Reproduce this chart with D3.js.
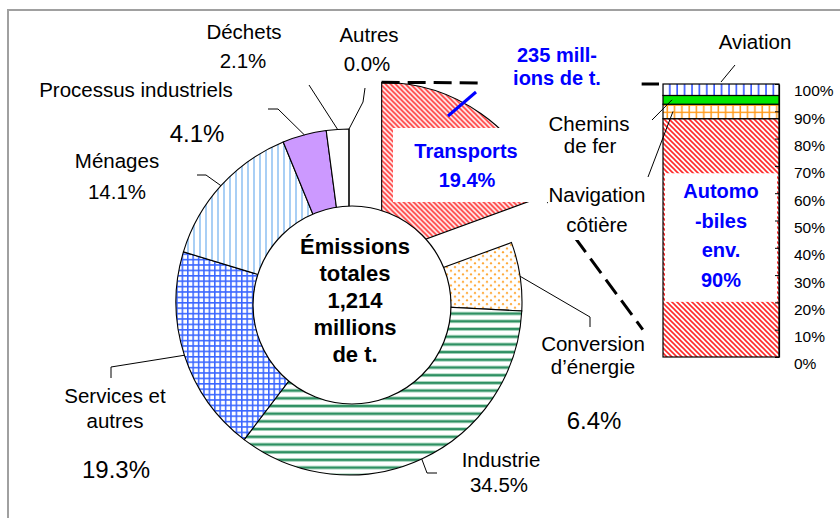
<!DOCTYPE html>
<html>
<head>
<meta charset="utf-8">
<script src="https://cdn.jsdelivr.net/npm/d3@7"></script>
<style>
  body { margin: 0; background: #fff; }
  svg { display: block; }
  text { font-family: "Liberation Sans", Arial, sans-serif; }
</style>
</head>
<body>
<svg id="chart" width="840" height="518"></svg>
<script>
// Sectors of total CO2 emissions (share of total, %), clockwise from 12 o'clock
const sectors = ["Transports", "Conversion d'énergie", "Industrie", "Services et autres",
                 "Ménages", "Processus industriels", "Déchets", "Autres"];
const sectorShares = [19.4, 6.4, 34.5, 19.3, 14.1, 4.1, 2.1, 0.0];

// Breakdown of the transport sector (share of its 235 Mt, %), bottom to top
const transportModes = ["Automobiles", "Navigation côtière", "Chemins de fer", "Aviation"];
const transportShares = [87.3, 5.3, 3.2, 4.2];

// Right-hand axis of the transport bar
const barTicks = [0, 10, 20, 30, 40, 50, 60, 70, 80, 90, 100];

const totalEmissions = "1,214";
const transportTonnes = 235;

// ---------------------------------------------------------------------------
const svg = d3.select("#chart");
const defs = svg.append("defs");
const FONT = 20.5, BIG = 24, BLUE = "#0000ff";

function pattern(id, w, h, build) {
  const p = defs.append("pattern").attr("id", id)
    .attr("patternUnits", "userSpaceOnUse").attr("width", w).attr("height", h);
  p.append("rect").attr("width", w).attr("height", h).attr("fill", "#fff");
  build(p);
}
// red diagonal hatch (transport / cars)
pattern("hatchRed", 5, 5, p => p.append("path")
  .attr("d", "M0,0L5,5M-1,4L1,6M4,-1L6,1").attr("stroke", "#ff2a2a").attr("stroke-width", 1.6));
// orange dots (energy conversion)
pattern("dotsOrange", 8, 7.4, p => {
  p.append("circle").attr("cx", 2).attr("cy", 2).attr("r", 1.1).attr("fill", "#ffa733");
  p.append("circle").attr("cx", 6).attr("cy", 5.7).attr("r", 1.1).attr("fill", "#ffa733");
});
// green horizontal lines (industry)
pattern("linesGreen", 8, 7.7, p => {
  p.append("rect").attr("y", 2.2).attr("width", 8).attr("height", 3.4).attr("fill", "#a8d8bd");
  p.append("rect").attr("y", 2.8).attr("width", 8).attr("height", 2.2).attr("fill", "#2f9063");
});
// blue grid (services)
pattern("gridBlue", 5.4, 5.4, p => p.append("path")
  .attr("d", "M0.75,0V5.4M0,0.75H5.4").attr("stroke", "#3a66ff").attr("stroke-width", 1.6));
// light blue vertical lines (households)
pattern("linesLightBlue", 6, 6, p => p.append("rect")
  .attr("x", 0).attr("width", 2).attr("height", 6).attr("fill", "#a9cff5"));
// blue vertical lines (aviation)
pattern("linesBlue", 7.4, 7.4, p => p.append("rect")
  .attr("x", 3).attr("width", 1.6).attr("height", 7.4).attr("fill", "#3355ff"));
// orange grid (coastal shipping)
pattern("gridOrange", 7.3, 7.3, p => p.append("path")
  .attr("d", "M3,0V7.3M0,3H7.3").attr("stroke", "#ff9a1a").attr("stroke-width", 1.5));

const sectorFill = {
  "Transports": "url(#hatchRed)",
  "Conversion d'énergie": "url(#dotsOrange)",
  "Industrie": "url(#linesGreen)",
  "Services et autres": "url(#gridBlue)",
  "Ménages": "url(#linesLightBlue)",
  "Processus industriels": "#cc99ff",
  "Déchets": "#ffffff",
  "Autres": "#ffffff"
};
const modeFill = {
  "Automobiles": "url(#hatchRed)",
  "Navigation côtière": "url(#gridOrange)",
  "Chemins de fer": "#00e800",
  "Aviation": "url(#linesBlue)"
};

// ---------------------------------------------------------------------------
// chart frame
svg.append("path").attr("d", "M8,518V10H840").attr("fill", "none")
  .attr("stroke", "#a0a0a0").attr("stroke-width", 2);

// ---------------------------------------------------------------------------
// Pie of sectors
const cx = 349, cy = 302, R = 173, explode = 57;
const pieData = d3.pie().sort(null).value(d => d.v)
  (sectors.map((name, i) => ({ name, v: sectorShares[i] })));
const arc = d3.arc().innerRadius(0).outerRadius(R);
const pieG = svg.append("g").attr("transform", `translate(${cx},${cy})`);

function offsetOf(d) {
  if (d.data.name !== "Transports") return [0, 0];
  const m = (d.startAngle + d.endAngle) / 2;
  return [Math.sin(m) * explode, -Math.cos(m) * explode];
}
pieG.selectAll("path.slice").data(pieData).join("path")
  .attr("class", "slice")
  .attr("transform", d => `translate(${offsetOf(d)})`)
  .attr("d", arc)
  .attr("fill", d => sectorFill[d.data.name])
  .attr("stroke", "#000").attr("stroke-width", 1.1);

// centre disc with the total
svg.append("circle").attr("cx", cx + 3).attr("cy", cy + 3).attr("r", 99)
  .attr("fill", "#fff").attr("stroke", "#000").attr("stroke-width", 1.2);
const centreLines = ["Émissions", "totales", totalEmissions, "millions", "de t."];
svg.append("g").selectAll("text").data(centreLines).join("text")
  .attr("x", 355).attr("y", (d, i) => 254 + i * 27)
  .attr("text-anchor", "middle").attr("font-size", 22).attr("font-weight", "bold")
  .attr("fill", "#000").text(d => d);

// ---------------------------------------------------------------------------
// Transport breakdown bar
const x = d3.scaleBand().domain(["Transports"]).range([663, 779]).padding(0);
const y = d3.scaleLinear().domain([0, 100]).range([357, 84]);
const row = { key: "Transports" };
transportModes.forEach((m, i) => row[m] = transportShares[i]);
const stacked = d3.stack().keys(transportModes)([row]);

const barG = svg.append("g");
barG.selectAll("rect").data(stacked).join("rect")
  .attr("x", x("Transports")).attr("width", x.bandwidth())
  .attr("y", d => y(d[0][1])).attr("height", d => y(d[0][0]) - y(d[0][1]))
  .attr("fill", d => modeFill[d.key])
  .attr("stroke", "#000").attr("stroke-width", 1.2);

// white panel carrying the car label inside the bar
svg.append("rect").attr("x", x("Transports") + 2).attr("width", x.bandwidth() - 4)
  .attr("y", y(67.3)).attr("height", y(20.2) - y(67.3)).attr("fill", "#fff");
const carLabel = ["Automo", "-biles", "env.", "90%"];
svg.append("g").selectAll("text").data(carLabel).join("text")
  .attr("x", x("Transports") + x.bandwidth() / 2).attr("y", (d, i) => 198 + i * 29.5)
  .attr("text-anchor", "middle").attr("font-size", 20).attr("font-weight", "bold")
  .attr("fill", BLUE).text(d => d);

// right axis
const axis = d3.axisRight(y).tickValues(barTicks).tickFormat(d => d + "%")
  .tickSizeInner(-4).tickSizeOuter(0).tickPadding(15);
const axG = svg.append("g").attr("transform", `translate(${x("Transports") + x.bandwidth()},0)`).call(axis);
axG.select(".domain").attr("stroke", "#000").attr("stroke-width", 1.2);
axG.selectAll(".tick line").attr("stroke", "#000");
axG.selectAll(".tick text").attr("y", 7).attr("font-size", 15.5)
  .attr("font-family", "'Liberation Sans', Arial, sans-serif").attr("fill", "#000");

// ---------------------------------------------------------------------------
// dashed series lines from the exploded slice to the bar
const tr = pieData[0];
const [ox, oy] = offsetOf(tr);
const wedgeTop = [cx + ox + Math.sin(tr.startAngle) * R, cy + oy - Math.cos(tr.startAngle) * R];
const wedgeEnd = [cx + ox + Math.sin(tr.endAngle) * R, cy + oy - Math.cos(tr.endAngle) * R];
const barTopLeft = [x("Transports"), y(100)];
const barBottomLeft = [x("Transports"), y(0)];
const lerp = (a, b, t) => [a[0] + (b[0] - a[0]) * t, a[1] + (b[1] - a[1]) * t];
const dashed = svg.append("g").attr("stroke", "#000").attr("stroke-width", 3)
  .attr("stroke-dasharray", "18,8").attr("fill", "none");
dashed.append("line").attr("x1", wedgeTop[0]).attr("y1", wedgeTop[1])
  .attr("x2", barTopLeft[0] - 4).attr("y2", barTopLeft[1]);
const endPt = lerp(wedgeEnd, barBottomLeft, 0.83);
dashed.append("line").attr("x1", wedgeEnd[0]).attr("y1", wedgeEnd[1])
  .attr("x2", endPt[0]).attr("y2", endPt[1]);

// ---------------------------------------------------------------------------
// label panels (white background behind the labels)
const panels = [
  [393, 128, 155, 74],   // Transports
  [478, 38, 163, 58],    // 235 millions de t.
  [548, 183, 100, 57]    // Navigation côtière
];
svg.append("g").selectAll("rect").data(panels).join("rect")
  .attr("x", d => d[0]).attr("y", d => d[1]).attr("width", d => d[2]).attr("height", d => d[3])
  .attr("fill", "#fff");

// ---------------------------------------------------------------------------
// sector labels and leader lines
const fmt = v => d3.format(".1f")(v) + "%";
const sectorLabel = {
  "Transports":            { lines: [[466, 158, "Transports"]], pct: [467, 187], bold: true },
  "Conversion d'énergie":  { lines: [[593, 351, "Conversion"], [593, 374, "d’énergie"]], pct: [594, 429], big: true,
                             leader: [[590, 317], [590, 327]] },
  "Industrie":             { lines: [[501, 467, "Industrie"]], pct: [499, 492],
                             leader: [[427, 473], [437, 473]] },
  "Services et autres":    { lines: [[115, 403, "Services et"], [115, 428, "autres"]], pct: [116, 478], big: true,
                             leader: [[111, 367], [111, 378]] },
  "Ménages":               { lines: [[117, 168, "Ménages"]], pct: [117, 199],
                             leader: [[206, 175], [197, 175]] },
  "Processus industriels": { lines: [[136, 97, "Processus industriels"]], pct: [197, 142], big: true,
                             leader: [[278, 109], [268, 109]] },
  "Déchets":               { lines: [[244, 39, "Déchets"]], pct: [243, 68],
                             leader: [[309, 85]] },
  "Autres":                { lines: [[369, 42, "Autres"]], pct: [367, 71],
                             leader: [[363, 102], [365, 88]] }
};

const leaders = svg.append("g").attr("fill", "none").attr("stroke", "#000").attr("stroke-width", 1);
const labels = svg.append("g");
pieData.forEach(d => {
  const L = sectorLabel[d.data.name];
  const m = (d.startAngle + d.endAngle) / 2;
  if (L.leader) {
    const start = [cx + Math.sin(m) * R, cy - Math.cos(m) * R];
    leaders.append("path").attr("d", d3.line()([start, ...L.leader]));
  }
  const colour = L.bold ? BLUE : "#000";
  L.lines.forEach(([lx, ly, t]) => labels.append("text")
    .attr("x", lx).attr("y", ly).attr("text-anchor", "middle")
    .attr("font-size", L.bold ? 20 : FONT).attr("font-weight", L.bold ? "bold" : "normal")
    .attr("fill", colour).text(t));
  labels.append("text").attr("x", L.pct[0]).attr("y", L.pct[1]).attr("text-anchor", "middle")
    .attr("font-size", L.bold ? 20 : (L.big ? BIG : FONT))
    .attr("font-weight", L.bold ? "bold" : "normal")
    .attr("fill", colour).text(fmt(d.data.v));
});

// transport tonnage label with its pointer
svg.append("line").attr("x1", 448).attr("y1", 116).attr("x2", 476).attr("y2", 92)
  .attr("stroke", BLUE).attr("stroke-width", 3);
svg.append("g").selectAll("text").data([transportTonnes + " mill-", "ions de t."]).join("text")
  .attr("x", 557).attr("y", (d, i) => 62 + i * 23).attr("text-anchor", "middle")
  .attr("font-size", 20).attr("font-weight", "bold").attr("fill", BLUE).text(d => d);

// ---------------------------------------------------------------------------
// transport mode labels
const modeLabel = {
  "Aviation":           { lines: [[755, 49, "Aviation"]], to: [735, 65], fromX: 0.5, fromTop: true },
  "Chemins de fer":     { lines: [[589, 131, "Chemins"], [590, 153, "de fer"]], to: [652, 120], fromX: 9 },
  "Navigation côtière": { lines: [[597, 202, "Navigation"], [597, 232, "côtière"]], to: [648, 177], fromX: 10 }
};
stacked.forEach(s => {
  const L = modeLabel[s.key];
  if (!L) return;
  const top = y(s[0][1]), bottom = y(s[0][0]);
  const sx = L.fromTop ? x("Transports") + x.bandwidth() * L.fromX : x("Transports") + L.fromX;
  const sy = L.fromTop ? top - 2 : (top + bottom) / 2;
  leaders.append("path").attr("d", d3.line()([[sx, sy], L.to]));
  L.lines.forEach(([lx, ly, t]) => labels.append("text")
    .attr("x", lx).attr("y", ly).attr("text-anchor", "middle")
    .attr("font-size", FONT).attr("fill", "#000").text(t));
});
</script>
</body>
</html>
